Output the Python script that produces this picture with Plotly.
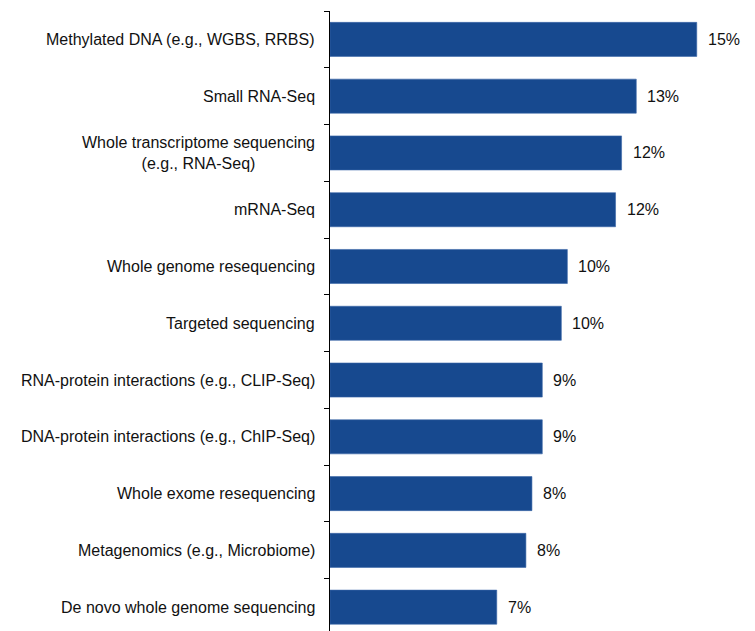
import plotly.graph_objects as go

categories = [
    "Methylated DNA (e.g., WGBS, RRBS)",
    "Small RNA-Seq",
    "Whole transcriptome sequencing<br>(e.g., RNA-Seq)",
    "mRNA-Seq",
    "Whole genome resequencing",
    "Targeted sequencing",
    "RNA-protein interactions (e.g., CLIP-Seq)",
    "DNA-protein interactions (e.g., ChIP-Seq)",
    "Whole exome resequencing",
    "Metagenomics (e.g., Microbiome)",
    "De novo whole genome sequencing",
]
values = [15.22, 12.71, 12.10, 11.85, 9.85, 9.60, 8.81, 8.81, 8.38, 8.13, 6.92]
value_labels = ["15%", "13%", "12%", "12%", "10%", "10%", "9%", "9%", "8%", "8%", "7%"]

BAR_COLOR = "#17498F"
FONT = "Liberation Sans, Arial, sans-serif"

fig = go.Figure()
fig.add_trace(go.Bar(
    x=values,
    y=list(range(len(categories))),
    orientation="h",
    marker=dict(color=BAR_COLOR, line=dict(color="#3A66A8", width=0.6)),
    hoverinfo="skip",
))

annotations = []
for i, (cat, v, lab) in enumerate(zip(categories, values, value_labels)):
    annotations.append(dict(
        x=0, xref="paper", y=i, yref="y",
        text=cat, showarrow=False, xanchor="right", yanchor="middle",
        align="center", xshift=-13,
        font=dict(family=FONT, size=16, color="#111111"),
    ))
    annotations.append(dict(
        x=v, xref="x", y=i, yref="y",
        text=lab, showarrow=False, xanchor="left", yanchor="middle",
        xshift=9,
        font=dict(family=FONT, size=16, color="#111111"),
    ))

fig.update_layout(
    width=747, height=623,
    margin=dict(l=322, r=5, t=3, b=0),
    paper_bgcolor="white", plot_bgcolor="white",
    showlegend=False,
    bargap=0.40,
    xaxis=dict(visible=False, range=[0, 17.43], fixedrange=True),
    yaxis=dict(
        range=[10.42, -0.5],
        tickmode="array",
        tickvals=[i - 0.5 for i in range(len(categories) + 1)],
        ticktext=[""] * (len(categories) + 1),
        ticks="outside", ticklen=5, tickcolor="black", tickwidth=1,
        showline=True, linecolor="black", linewidth=1,
        showgrid=False, zeroline=False, fixedrange=True,
        automargin=False,
    ),
    annotations=annotations,
)

fig.write_html("out.html")
